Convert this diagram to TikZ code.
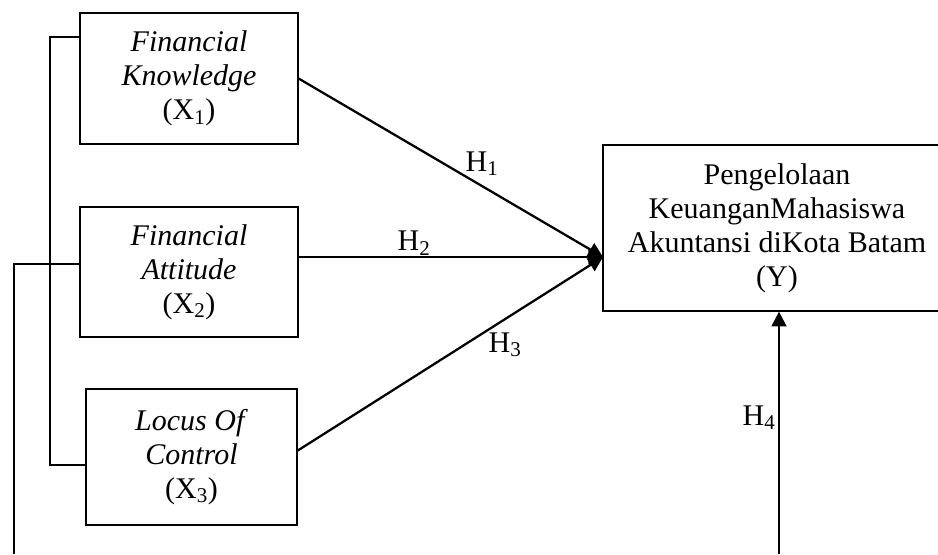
\documentclass[tikz,border=0pt]{standalone}
\usepackage{fontspec}
\setmainfont{Liberation Serif}
\usetikzlibrary{arrows.meta}

\begin{document}
\begin{tikzpicture}[x=0.75pt,y=-0.75pt]

% Define styles
\tikzstyle{varbox}=[draw, line width=0.9pt, rectangle, align=center, inner sep=0pt, font=\fontsize{22.5}{25.5}\selectfont]
\tikzstyle{hyp}=[line width=1.7pt, -{Triangle[length=11pt, width=11pt]}]
\tikzstyle{link}=[line width=0.8pt]
\tikzstyle{hlabel}=[inner sep=0pt, font=\fontsize{22.5}{25.5}\selectfont]

% Parameters
\def\px{0.75pt}

\useasboundingbox (0,0) rectangle (938,554);

% Independent variables
\node[varbox, minimum width=218*\px, minimum height=131*\px] (x1) at (189,78.5)
  {\textit{Financial}\\\textit{Knowledge}\\(X\textsubscript{1})};
\node[varbox, minimum width=218*\px, minimum height=130*\px] (x2) at (189,272)
  {\textit{Financial}\\\textit{Attitude}\\(X\textsubscript{2})};
\node[varbox, minimum width=211*\px, minimum height=136*\px] (x3) at (191.5,457)
  {\textit{Locus Of}\\\textit{Control}\\(X\textsubscript{3})};

% Dependent variable
\node[varbox, minimum width=348*\px, minimum height=166*\px] (y) at (777,228)
  {Pengelolaan\\KeuanganMahasiswa\\Akuntansi diKota Batam\\(Y)};

% Helper points
\coordinate (tip) at (603,257);
\coordinate (b1) at (50,37);
\coordinate (b3) at (50,465);
\coordinate (l2) at (14,264);
\coordinate (l0) at (14,554);
\coordinate (h4) at (779,554);

% Hypotheses
\draw[hyp] (x1.east) -- (tip);
\draw[hyp] (x2.east |- tip) -- (tip);
\draw[hyp] (297,451) -- (tip);
\draw[hyp] (h4) -- (h4 |- y.south);

\node[hlabel] (h1) at (482,164) {H\textsubscript{1}};
\node[hlabel] (h2) at (414,243) {H\textsubscript{2}};
\node[hlabel] (h3) at (505,345) {H\textsubscript{3}};
\node[hlabel] (h4l) at (759,418) {H\textsubscript{4}};

% Side links
\draw[link] (x1.west |- b1) -- (b1) -- (b3) -- (x3.west |- b3);
\draw[link] (x2.west |- l2) -- (l2) -- (l0);

\end{tikzpicture}
\end{document}
